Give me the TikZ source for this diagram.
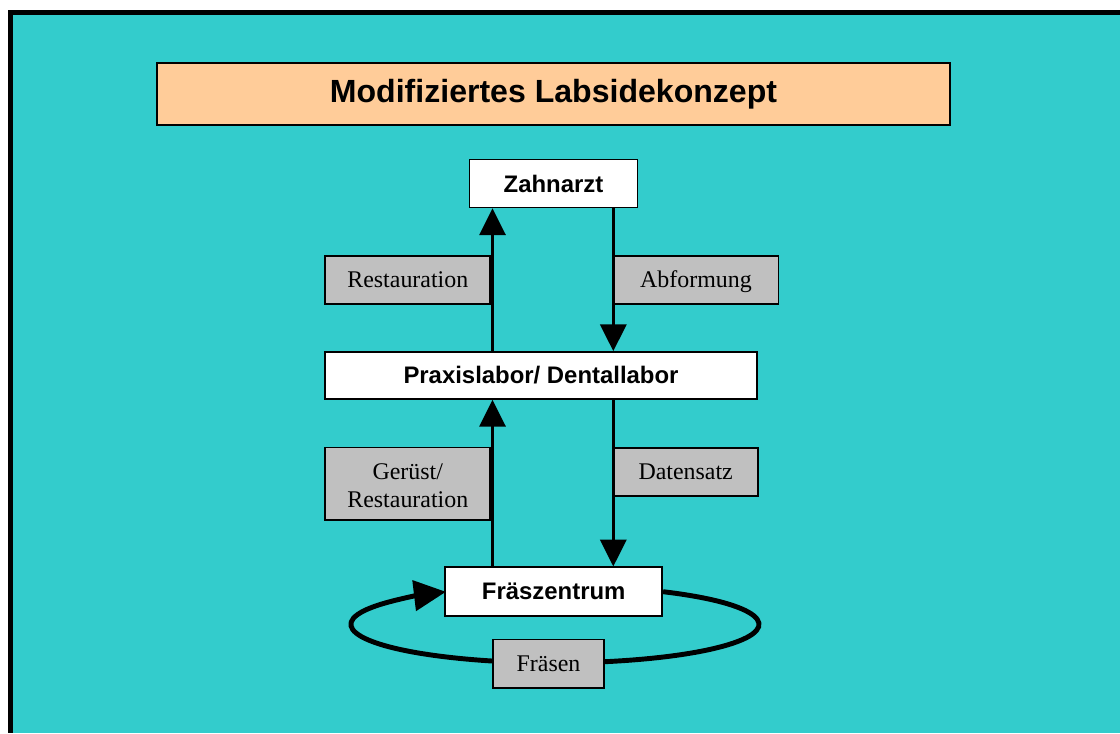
\documentclass[tikz,border=0pt]{standalone}
\usepackage{fontspec}
\setmainfont{Liberation Serif}
\newfontfamily\arialfont{Liberation Sans}
\usetikzlibrary{arrows.meta}
\definecolor{slidecyan}{HTML}{33CCCC}
\definecolor{titleorange}{HTML}{FFCC99}
\definecolor{taggray}{HTML}{C0C0C0}

\begin{document}
\begin{tikzpicture}[x=0.025cm, y=-0.025cm,
    station/.style={rectangle, draw=black, line width=1.2pt, fill=white, inner sep=0pt,
        minimum height=1.2cm, font=\arialfont\bfseries\fontsize{17}{20}\selectfont},
    tag/.style={rectangle, draw=black, line width=1.2pt, fill=taggray, inner sep=0pt,
        minimum height=1.2cm, align=center, font=\fontsize{17}{19.5}\selectfont},
    tagline/.style={tag, text height=12.5pt, text depth=1pt},
    flow/.style={-{Triangle[length=0.67cm, width=0.65cm]}, line width=2.4pt},
    millring/.style={-{Triangle[length=0.8cm, width=0.75cm]}, line width=3.5pt},
]
% Slide background
\useasboundingbox (0,0) rectangle (1120,733);
\fill[white] (0,0) rectangle (1120,733);
\fill[black] (7.5,9.5) rectangle (1120,733);
\fill[slidecyan] (13.3,15.3) rectangle (1120,733);

% Title
\node[rectangle, draw=black, line width=1.2pt, fill=titleorange, inner sep=0pt,
    minimum width=19.825cm, minimum height=1.55cm,
    font=\arialfont\bfseries\fontsize{22.8}{26}\selectfont] (title) at (553.5,94)
    {Modifiziertes Labsidekonzept};

% Stations
\node[station, minimum width=4.2cm] (zahnarzt) at (553.5,183.5) {Zahnarzt};
\node[station, minimum width=10.8cm, minimum height=1.175cm] (labor) at (541,375.5)
    {Praxislabor/ Dentallabor};
\node[station, minimum width=5.425cm, minimum height=1.22cm] (fraes) at (553.7,591.7)
    {Fräszentrum};

% Milling loop
\draw[millring] (fraes.east) arc[start angle=58, end angle=-237.7,
    x radius=5.1cm, y radius=0.9625cm];

% Labels
\node[tagline, minimum width=4.125cm] (restauration) at (407.8,279.7) {Restauration};
\node[tagline, minimum width=4.13cm] (abformung) at (696,279.7) {Abformung};
\node[tag, minimum width=4.125cm, minimum height=1.81cm, text height=34pt, text depth=0.5pt]
    (geruest) at (407.8,483.8) {Gerüst/\\Restauration};
\node[tagline, minimum width=3.62cm] (datensatz) at (685.7,471.7) {Datensatz};
\node[tagline, minimum width=2.76cm, minimum height=1.21cm] (fraesen) at (548.5,663.8) {Fräsen};

% Flow
\coordinate (upline) at (492.5,0);
\coordinate (downline) at (613.3,0);
\draw[flow] (labor.north -| upline) -- (zahnarzt.south -| upline);
\draw[flow] (zahnarzt.south -| downline) -- (labor.north -| downline);
\draw[flow] (fraes.north -| upline) -- (labor.south -| upline);
\draw[flow] (labor.south -| downline) -- (fraes.north -| downline);
\end{tikzpicture}
\end{document}
